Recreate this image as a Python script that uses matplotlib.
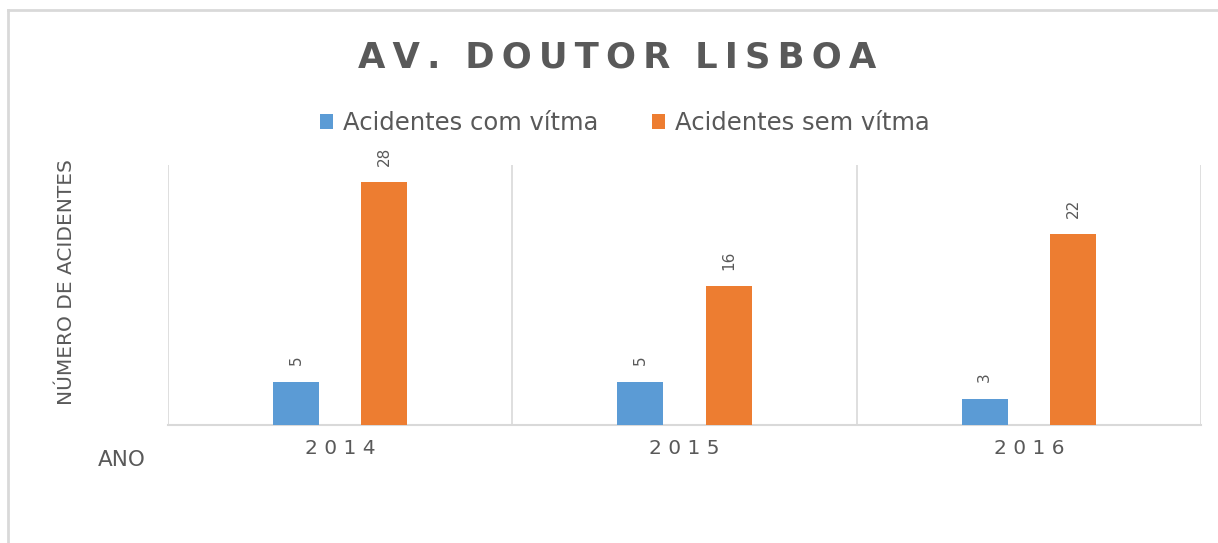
import matplotlib
matplotlib.use('Agg')
import matplotlib.pyplot as plt
from matplotlib.lines import Line2D
import numpy as np

# data
anos = ['2014', '2015', '2016']
com_vitima = [5, 5, 3]
sem_vitima = [28, 16, 22]
series_names = ['Acidentes com vítma', 'Acidentes sem vítma']
titulo = 'AV. DOUTOR LISBOA'

BLUE = '#5B9BD5'
ORANGE = '#ED7D31'
TXT = '#595959'
GRID = '#D9D9D9'


def spaced(s, sep='\u2009'):
    # letter-spaced text, wider gap between words
    return '  '.join(sep.join(word) for word in s.split(' '))


fig = plt.figure(figsize=(12.18, 5.43), dpi=100)
ax = fig.add_axes([168 / 1218, 1 - 425 / 543, (1201 - 168) / 1218, (425 - 165) / 543])

x = np.arange(len(anos))
off, w = 0.128, 0.134
b1 = ax.bar(x - off, com_vitima, w, color=BLUE, label=series_names[0], zorder=3)
b2 = ax.bar(x + off, sem_vitima, w, color=ORANGE, label=series_names[1], zorder=3)

for bars in (b1, b2):
    for r in bars:
        ax.annotate(str(int(r.get_height())), (r.get_x() + r.get_width() / 2, r.get_height()),
                    xytext=(0, 12), textcoords='offset points', rotation=90,
                    ha='center', va='bottom', fontsize=11, color=TXT)

ax.set_xlim(-0.5, len(anos) - 0.5)
ax.set_ylim(0, 30)
ax.set_yticks([])
ax.set_xticks(x)
ax.set_xticklabels([' '.join(a) for a in anos], fontsize=14.5, color=TXT)
ax.tick_params(axis='x', length=0, pad=10)
for s in ['top', 'right', 'left']:
    ax.spines[s].set_visible(False)
ax.spines['bottom'].set_color(GRID)
ax.spines['bottom'].set_linewidth(1.5)
for b in np.arange(-0.5, len(anos), 1.0):
    ax.axvline(b, color=GRID, lw=1.2, zorder=1)

ax.set_ylabel('NÚMERO DE ACIDENTES', fontsize=14.5, color=TXT, labelpad=0)
ax.yaxis.set_label_coords(-92 / 1033, 0.55)
fig.text(122 / 1218, 1 - 460 / 543, 'ANO', fontsize=15.5, color=TXT, ha='center', va='center')

fig.text(617 / 1218, 1 - 57 / 543, spaced(titulo), fontsize=25.5,
         fontweight='bold', color=TXT, ha='center', va='center')

fig.legend(handles=[b1, b2], loc='center', bbox_to_anchor=(625 / 1218, 1 - 123 / 543),
           ncol=2, frameon=False, fontsize=17.5, labelcolor=TXT, handlelength=0.55,
           handleheight=0.55, handletextpad=0.4, columnspacing=2.2)

# light outer frame (left and top edges only)
fig.add_artist(Line2D([8 / 1218, 8 / 1218], [0, 1 - 10 / 543], color=GRID, lw=2))
fig.add_artist(Line2D([8 / 1218, 1], [1 - 10 / 543, 1 - 10 / 543], color=GRID, lw=2))

fig.savefig('out.png', dpi=100)
